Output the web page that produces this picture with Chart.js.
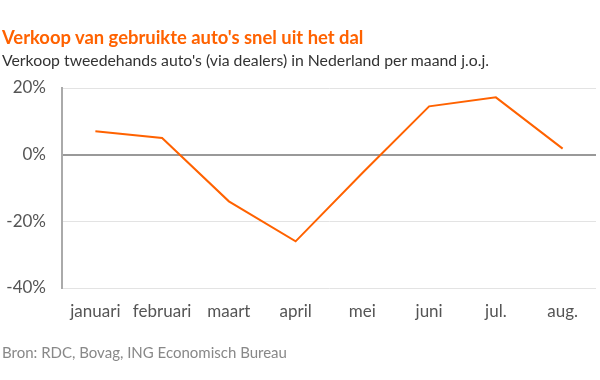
<!DOCTYPE html>
<html>
<head>
<meta charset="utf-8">
<script src="https://cdn.jsdelivr.net/npm/chart.js@4/dist/chart.umd.min.js"></script>
<style>
  body { margin: 0; background: #fff; font-family: Lato, "Open Sans", sans-serif; }
  #wrap { position: relative; width: 600px; height: 380px; }
  #chart { position: absolute; left: 0; top: 0; }
  .title { position: absolute; left: 2px; top: 26px; font-size: 18.4px; font-weight: bold; color: #FF6200; }
  .sub { position: absolute; left: 2px; top: 50px; font-size: 15.8px; color: #333; }
  .src { position: absolute; left: 2px; top: 343px; font-size: 15px; color: #888; }
</style>
</head>
<body>
<div id="wrap">
  <canvas id="chart" width="600" height="380"></canvas>
  <div class="title">Verkoop van gebruikte auto's snel uit het dal</div>
  <div class="sub">Verkoop tweedehands auto's (via dealers) in Nederland per maand j.o.j.</div>
  <div class="src">Bron: RDC, Bovag, ING Economisch Bureau</div>
</div>
<script>
const months = ["januari", "februari", "maart", "april", "mei", "juni", "jul.", "aug."];
const salesYoY = [7, 5, -14, -26, -5.5, 14.5, 17.2, 1.8];

const ctx = document.getElementById('chart').getContext('2d');
new Chart(ctx, {
    type: 'line',
    data: {
        labels: months,
        datasets: [{
            data: salesYoY,
            borderColor: '#FF6200',
            borderWidth: 2,
            pointRadius: 0,
            tension: 0,
            fill: false
        }]
    },
    options: {
        responsive: false,
        animation: false,
        layout: { padding: { top: 88, right: 4, bottom: 40, left: 0 } },
        plugins: {
            legend: { display: false },
            tooltip: { enabled: false }
        },
        scales: {
            x: {
                offset: true,
                grid: { display: false, drawTicks: false },
                border: { display: false },
                ticks: { color: '#555', font: { family: 'Lato', size: 17 }, padding: 13, maxRotation: 0, autoSkip: false },
                afterFit: (s) => { s.height = 52; }
            },
            y: {
                min: -40,
                max: 20,
                ticks: {
                    stepSize: 20,
                    color: '#555',
                    font: { family: 'Lato', size: 17 },
                    padding: 16,
                    callback: (v) => v + '%'
                },
                grid: {
                    drawTicks: false,
                    color: (c) => c.tick && c.tick.value === 0 ? '#999' : '#e3e3e3',
                    lineWidth: (c) => c.tick && c.tick.value === 0 ? 2 : 1
                },
                border: { color: '#aaa', width: 2 },
                afterFit: (s) => { s.width = 62; }
            }
        }
    }
});
</script>
</body>
</html>
